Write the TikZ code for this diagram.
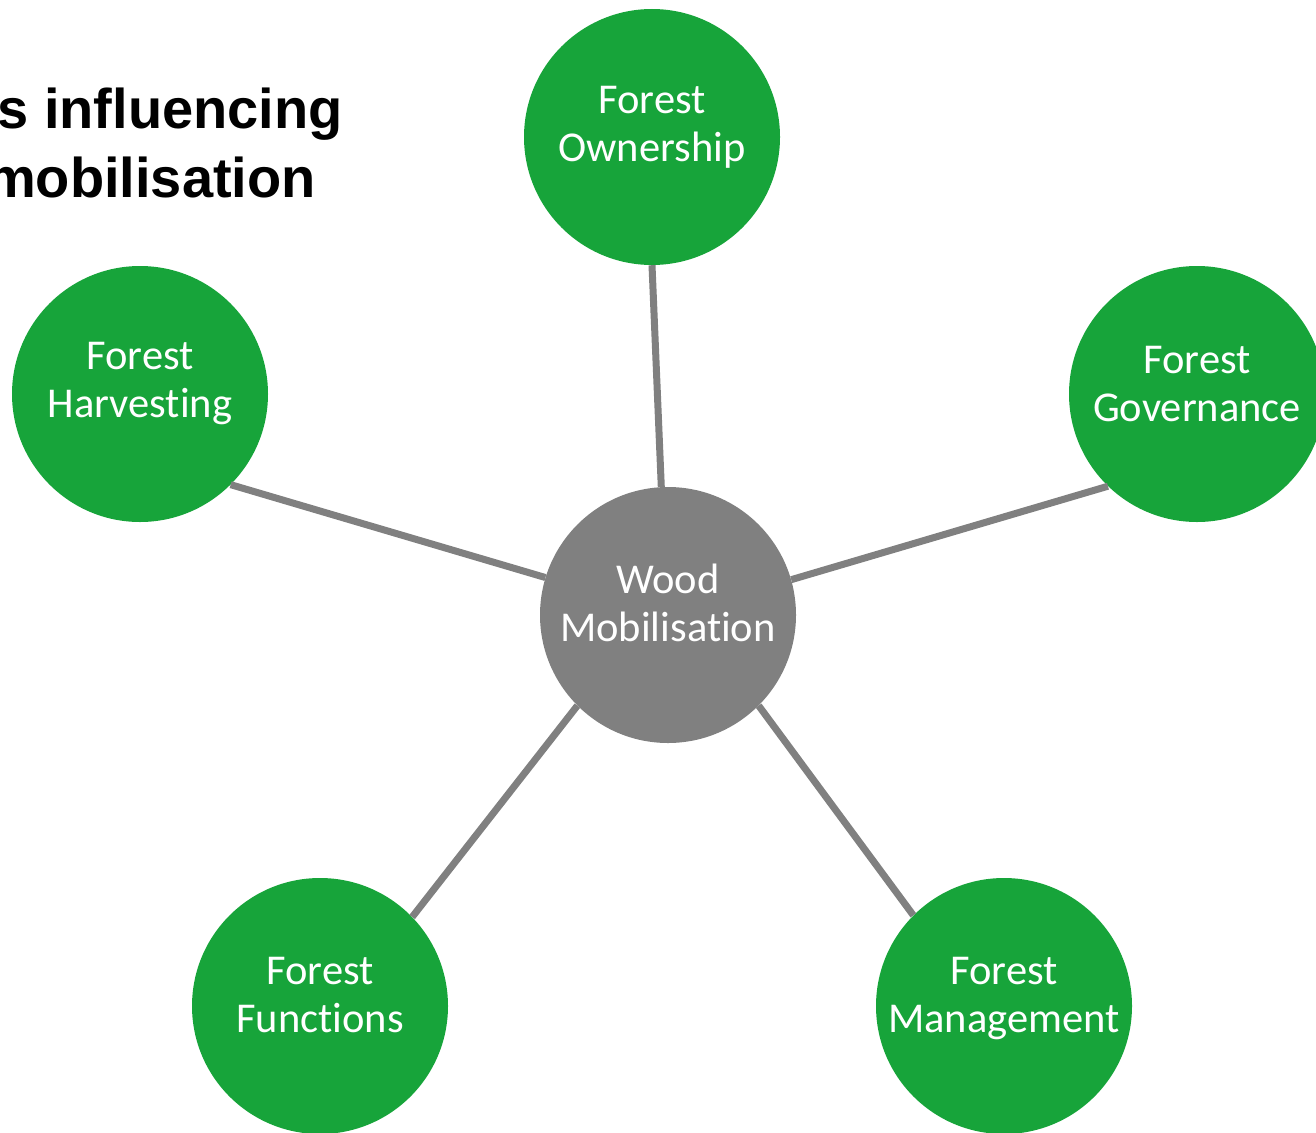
\documentclass[tikz,border=0pt]{standalone}
\usepackage{fontspec}
\setmainfont{Carlito}[Ligatures=NoCommon]
\newfontfamily\titlefont{Liberation Sans}
\definecolor{leafgreen}{HTML}{17A43A}
\definecolor{hubgray}{HTML}{808080}
\begin{document}
\begin{tikzpicture}[x=1pt,y=-1pt,
  outer/.style={circle,fill=leafgreen,minimum size=256pt,inner sep=0pt},
  hub/.style={circle,fill=hubgray,minimum size=256pt,inner sep=0pt},
  txt/.style={inner sep=0pt,text=white,align=center,font=\fontsize{42.5}{48}\selectfont},
  spoke/.style={draw=hubgray,line width=7pt},
  titletext/.style={anchor=base east,inner sep=0pt,font=\titlefont\bfseries\fontsize{56}{68}\selectfont}]
\useasboundingbox (0,0) rectangle (1316,1132);
\node[titletext] (t1) at (343,128) {s influencing};
\node[titletext] (t2) at (316,197) {mobilisation};
\node[hub] (wood) at (668,615) {};
\node[outer] (own) at (652,137) {};
\node[outer] (harv) at (140,394) {};
\node[outer] (gov) at (1197,394) {};
\node[outer] (func) at (320,1006) {};
\node[outer] (man) at (1004,1006) {};
\node[txt] (woodT) at ([yshift=7pt]wood.center) {\strut Wood\\\strut Mobilisation};
\node[txt] (ownT) at ([yshift=9pt]own.center) {\strut Forest\\\strut Ownership};
\node[txt] (harvT) at ([yshift=10pt]harv.center) {\strut Forest\\\strut Harvesting};
\node[txt] (govT) at ([yshift=6pt]gov.center) {\strut Forest\\\strut Governance};
\node[txt] (funcT) at ([yshift=7pt]func.center) {\strut Forest\\\strut Functions};
\node[txt] (manT) at ([yshift=7pt]man.center) {\strut Forest\\\strut Management};
\draw[spoke] (wood.93.6) -- (own.-90);
\draw[spoke] (wood.163.3) -- (harv.-45);
\draw[spoke] (wood.16.7) -- (gov.226);
\draw[spoke] (wood.225.6) -- (func.44.7);
\draw[spoke] (wood.-45) -- (man.135);
\end{tikzpicture}
\end{document}
